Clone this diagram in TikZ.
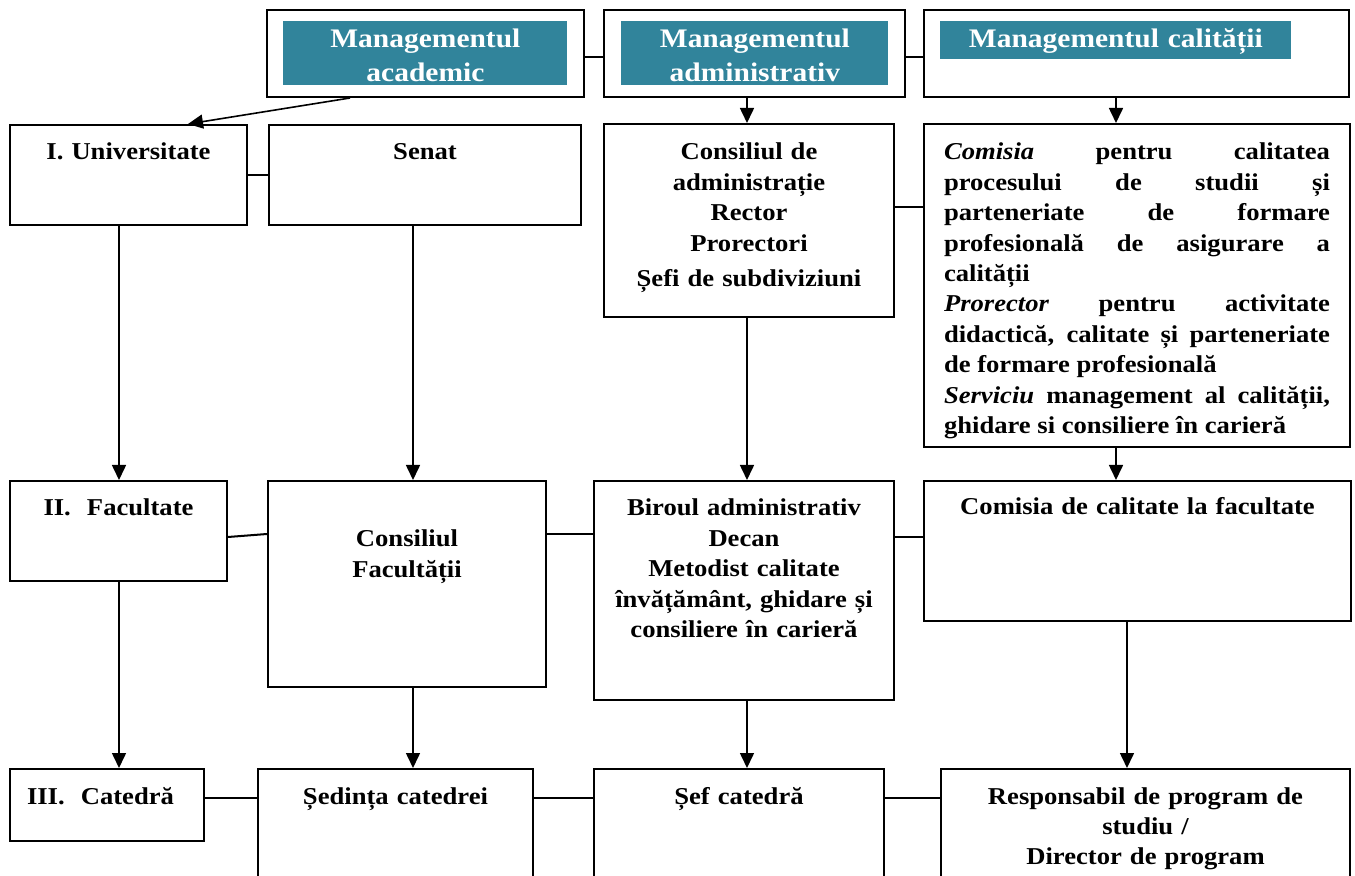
\documentclass[tikz,border=0pt]{standalone}
\usepackage{fontspec}
\setmainfont{Liberation Serif}[FakeStretch=1.1]
\usetikzlibrary{arrows.meta}
\definecolor{tealhead}{RGB}{49,132,155}
\newcommand{\boxfont}{\bfseries\fontsize{12.1}{15.2}\selectfont}
\newcommand{\headfont}{\bfseries\fontsize{13.4}{17}\selectfont}

\begin{document}
\begin{tikzpicture}[x=0.5pt, y=-0.5pt,
      box/.style={rectangle, draw, line width=1pt, anchor=north west,
                  inner xsep=0pt, inner ysep=0pt, align=center,
                  font=\boxfont, text height=17.5pt},
      head/.style={rectangle, fill=tealhead, text=white, anchor=north west,
                   inner sep=0pt, align=center, font=\headfont,
                   text height=13pt},
      link/.style={line width=1pt},
      arr/.style={line width=0.8pt, -{Triangle[length=7.5pt, width=7pt]}}]
    \clip (0,0) rectangle (1355,876);

    % management levels
    \node[box, text width=158.5pt, text height=43.5pt, text depth=0pt] (acad) at (266,9) {};
    \node[box, text width=150.5pt, text height=43.5pt, text depth=0pt] (adm) at (603,9) {};
    \node[box, text width=212.5pt, text height=43.5pt, text depth=0pt] (cal) at (923,9) {};
    \node[head, text width=142pt, text depth=19pt] (acadh) at (283,21) {Managementul\\academic};
    \node[head, text width=133.5pt, text depth=19pt] (admh) at (621,21) {Managementul\\administrativ};
    \node[head, text width=175.5pt, text depth=6pt] (calh) at (940,21) {Managementul calității};
    \draw[link] (acad.east |- 0,57) -- (adm.west |- 0,57);
    \draw[link] (adm.east |- 0,57) -- (cal.west |- 0,57);

    % I. university
    \node[box, text width=118.5pt, text depth=32.5pt] (univ) at (9,124) {I. Universitate};
    \node[box, text width=156pt, text depth=32.5pt] (senat) at (268,124) {Senat};
    \node[box, text width=145pt, text height=18pt, text depth=78.5pt] (cadm) at (603,123)
      {Consiliul de\\administrație\\Rector\\Prorectori\\[2.5pt]Șefi de subdiviziuni};
    \node[box, align=justify, inner xsep=10pt, text width=193pt, text height=18pt,
          text depth=143.5pt] (comisia) at (923,123)
      {\tolerance=9999 \hyphenpenalty=10000 \hbadness=10000
       \textit{Comisia} pentru calitatea\linebreak procesului de studii și\linebreak
       parteneriate de formare\linebreak profesională de asigurare a\linebreak
       calității\\\textit{Prorector} pentru activitate\linebreak
       didactică, calitate și parteneriate\linebreak de formare profesională\\
       \textit{Serviciu} management al calității,\linebreak ghidare si consiliere în carieră};
    \draw[link] (univ) -- (senat);
    \draw[link] (cadm.east |- 0,207) -- (comisia.west |- 0,207);

    % II. faculty
    \node[box, text width=108.5pt, text depth=32.5pt] (fac) at (9,480) {II.~~Facultate};
    \node[box, text width=139pt, text height=33pt, text depth=70pt] (cfac) at (267,480)
      {Consiliul\\Facultății};
    \node[box, text width=150pt, text depth=92pt] (birou) at (593,480)
      {Biroul administrativ\\Decan\\Metodist calitate\\învățământ, ghidare și\\consiliere în carieră};
    \node[box, text width=213.5pt, text height=17pt, text depth=53pt] (cfacq) at (923,480)
      {Comisia de calitate la facultate};
    \draw[link] (fac.east |- 0,537) -- (cfac.west |- 0,534);
    \draw[link] (cfac.east |- 0,534) -- (birou.west |- 0,534);
    \draw[link] (birou.east |- 0,537) -- (cfacq.west |- 0,537);

    % III. department
    \node[box, align=left, inner xsep=8.5pt, text width=80pt, text depth=18.5pt] (cat) at (9,768)
      {III.~~Catedră};
    \node[box, text width=137.5pt, text depth=52.5pt] (sed) at (257,768) {Ședința catedrei};
    \node[box, text width=145pt, text depth=52.5pt] (sef) at (593,768) {Șef catedră};
    \node[box, text width=204.5pt, text depth=52.5pt] (resp) at (940,768)
      {Responsabil de program de\\studiu /\\Director de program};
    \draw[link] (cat.east |- 0,798) -- (sed.west |- 0,798);
    \draw[link] (sed.east |- 0,798) -- (sef.west |- 0,798);
    \draw[link] (sef.east |- 0,798) -- (resp.west |- 0,798);

    % arrows between levels
    \coordinate (k1) at (119,0);
    \coordinate (k2) at (413,0);
    \coordinate (k3) at (747,0);
    \coordinate (k4) at (1116,0);
    \coordinate (k5) at (1127,0);
    \draw[arr] (acad.south -| 350,0) -- (univ.north -| 188,0);
    \draw[arr] (adm.south -| k3) -- (cadm.north -| k3);
    \draw[arr] (cal.south -| k4) -- (comisia.north -| k4);
    \draw[arr] (univ.south -| k1) -- (fac.north -| k1);
    \draw[arr] (senat.south -| k2) -- (cfac.north -| k2);
    \draw[arr] (cadm.south -| k3) -- (birou.north -| k3);
    \draw[arr] (comisia.south -| k4) -- (cfacq.north -| k4);
    \draw[arr] (fac.south -| k1) -- (cat.north -| k1);
    \draw[arr] (cfac.south -| k2) -- (sed.north -| k2);
    \draw[arr] (birou.south -| k3) -- (sef.north -| k3);
    \draw[arr] (cfacq.south -| k5) -- (resp.north -| k5);
  \end{tikzpicture}
\end{document}
